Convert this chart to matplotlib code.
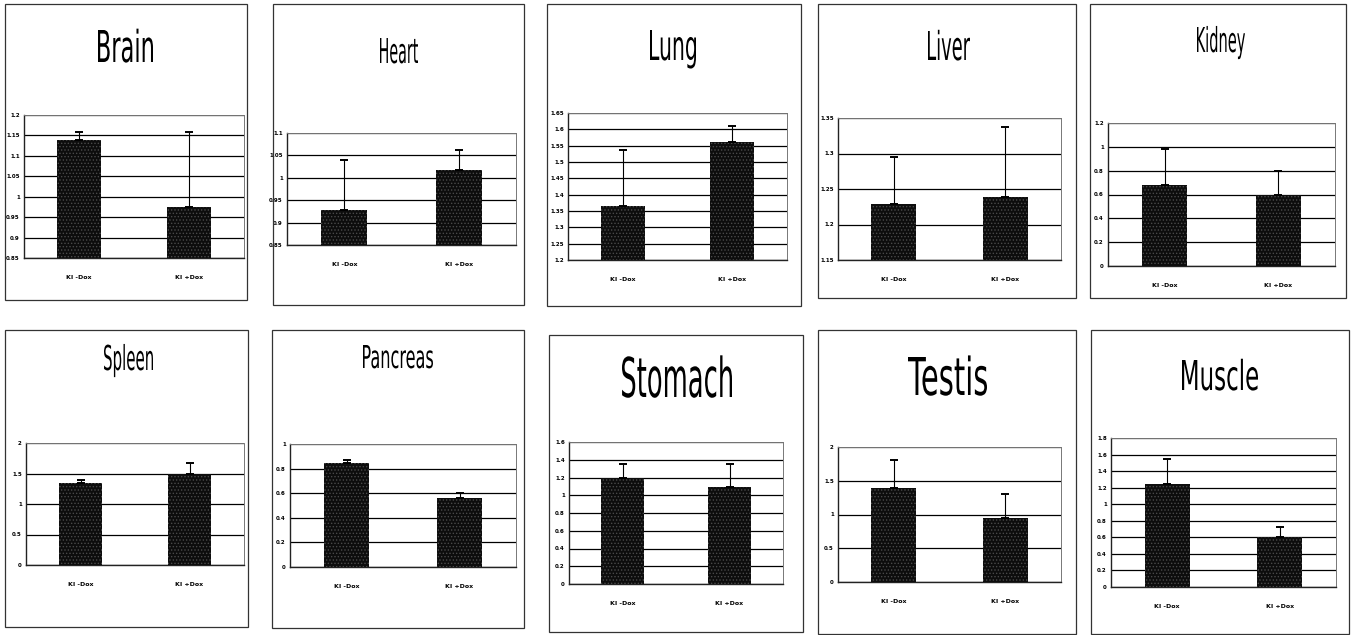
import numpy as np
import matplotlib
matplotlib.use("Agg")
from matplotlib import pyplot as plt
from matplotlib.patches import Rectangle, PathPatch
from matplotlib.textpath import TextPath
from matplotlib.font_manager import FontProperties
from matplotlib.transforms import Affine2D

plt.rcParams['hatch.linewidth'] = 0.6

organs = ['Brain', 'Heart', 'Lung', 'Liver', 'Kidney',
          'Spleen', 'Pancreas', 'Stomach', 'Testis', 'Muscle']
groups = ['KI -Dox', 'KI +Dox']

# mean expression and SD for the two groups
mean_minus = [1.138, 0.929, 1.366, 1.229, 0.683, 1.337, 0.845, 1.20, 1.40, 1.24]
sd_minus   = [0.020, 0.111, 0.171, 0.066, 0.297, 0.050, 0.025, 0.15, 0.41, 0.31]
mean_plus  = [0.974, 1.018, 1.560, 1.239, 0.595, 1.500, 0.562, 1.09, 0.948, 0.60]
sd_plus    = [0.184, 0.044, 0.050, 0.099, 0.205, 0.170, 0.043, 0.26, 0.35, 0.13]

# y-axis range and tick step
y_lo   = [0.85, 0.85, 1.2, 1.15, 0, 0, 0, 0, 0, 0]
y_hi   = [1.2, 1.1, 1.65, 1.35, 1.2, 2, 1, 1.6, 2, 1.8]
y_step = [0.05, 0.05, 0.05, 0.05, 0.2, 0.5, 0.2, 0.2, 0.5, 0.2]

W, H = 1351, 635
# panel frame (x0, y0, x1, y1) in pixels from top-left
frames = [(5, 4, 247, 300), (273, 4, 524, 305), (547, 4, 801, 306),
          (818, 4, 1076, 298), (1090, 4, 1346, 298),
          (5, 330, 248, 627), (272, 330, 524, 628), (549, 335, 803, 632),
          (818, 330, 1076, 634), (1091, 330, 1349, 634)]
# plot area (x0, y0, x1, y1)
areas = [(24, 115, 244, 258), (287, 133, 516, 245), (568, 113, 787, 260),
         (838, 118, 1061, 260), (1108, 123, 1335, 266),
         (26, 443, 244, 565), (290, 444, 516, 567), (569, 442, 783, 584),
         (838, 447, 1061, 582), (1111, 438, 1336, 587)]
# title box: x0, x1, cap top, baseline
titles = [(98, 153, 30, 62), (380, 418, 38, 63), (650, 696, 30, 60),
          (928, 970, 31, 60), (1197, 1245, 27, 52),
          (104, 153, 345, 370), (363, 433, 345, 368), (622, 732, 357, 397),
          (908, 987, 357, 395), (1182, 1258, 360, 390)]

fig = plt.figure(figsize=(W / 100, H / 100), dpi=100)
px = Affine2D().scale(1 / W, 1 / H) + fig.transFigure

# narrow condensed titles: squeeze the glyph outlines horizontally
tfont = FontProperties(family='DejaVu Sans')
cap_h = TextPath((0, 0), 'H', size=100, prop=tfont).get_extents().height


def draw_title(name, x0, x1, top, base):
    path = TextPath((0, 0), name, size=100, prop=tfont)
    ext = path.get_extents()
    sy = (base - top) / cap_h
    sx = (x1 - x0) / ext.width
    tr = Affine2D().translate(-ext.x0, 0).scale(sx, sy).translate(x0, H - base)
    fig.add_artist(PathPatch(tr.transform_path(path), transform=px,
                             facecolor='black', linewidth=0))


for i, name in enumerate(organs):
    fx0, fy0, fx1, fy1 = frames[i]
    fig.add_artist(Rectangle((fx0 / W, 1 - fy1 / H), (fx1 - fx0) / W, (fy1 - fy0) / H,
                             transform=fig.transFigure, fill=False,
                             edgecolor='#333333', linewidth=0.9))
    draw_title(name, *titles[i])

    ax0, ay0, ax1, ay1 = areas[i]
    ax = fig.add_axes([ax0 / W, 1 - ay1 / H, (ax1 - ax0) / W, (ay1 - ay0) / H])
    vals = [mean_minus[i], mean_plus[i]]
    errs = [sd_minus[i], sd_plus[i]]
    ax.bar([0, 1], np.array(vals) - y_lo[i], bottom=y_lo[i], width=0.4,
           color='#0d0d0d', edgecolor='#4a4a4a', hatch='.....', linewidth=0, zorder=3)
    ax.errorbar([0, 1], vals, yerr=[[0, 0], errs], fmt='none', ecolor='black',
                elinewidth=0.8, capsize=3, capthick=1.4, zorder=4)

    ticks = np.round(np.arange(y_lo[i], y_hi[i] + y_step[i] / 2, y_step[i]), 2)
    ax.set_ylim(y_lo[i], y_hi[i])
    ax.set_xlim(-0.5, 1.5)
    ax.set_yticks(ticks)
    ax.set_yticklabels(['%g' % t for t in ticks], fontsize=4, fontweight='bold')
    ax.set_xticks([0, 1])
    ax.set_xticklabels(groups, fontsize=4.5, fontweight='bold')
    ax.tick_params(axis='y', length=0, pad=3)
    ax.tick_params(axis='x', length=0, pad=12)
    ax.yaxis.grid(True, color='black', linewidth=0.9, zorder=1)
    ax.set_axisbelow(True)
    for side in ['top', 'right']:
        ax.spines[side].set_color('#777777')
        ax.spines[side].set_linewidth(0.7)
        ax.spines[side].set_linestyle((0, (2, 1)))
    for side in ['left', 'bottom']:
        ax.spines[side].set_color('#222222')
        ax.spines[side].set_linewidth(1.0)

fig.savefig('out.png', dpi=100, facecolor='white')
